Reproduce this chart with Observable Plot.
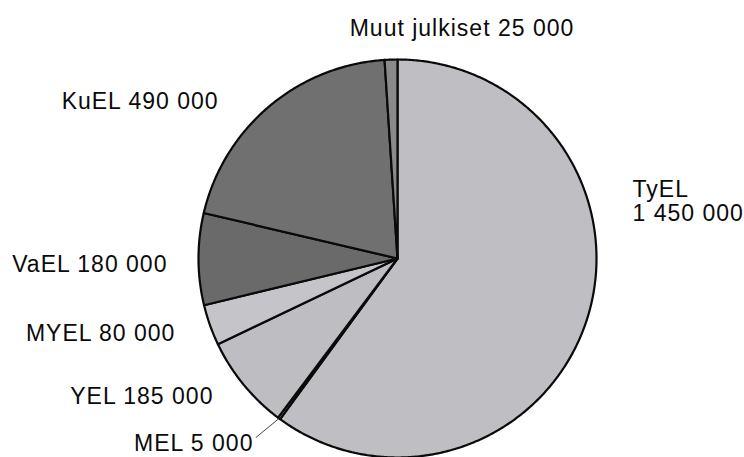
<!DOCTYPE html>
<html><head><meta charset="utf-8">
<script src="https://cdn.jsdelivr.net/npm/d3@7"></script>
<script src="https://cdn.jsdelivr.net/npm/@observablehq/plot@0.6"></script>
<style>html,body{margin:0;padding:0;background:#fff}</style>
</head><body><div id="chart"></div>
<script>
// ---- data ----
const names = ["TyEL", "MEL", "YEL", "MYEL", "VaEL", "KuEL", "Muut julkiset"];
const values = [1450000, 5000, 185000, 80000, 180000, 490000, 25000];
const labels = ["TyEL\n1 450 000", "MEL 5 000", "YEL 185 000", "MYEL 80 000", "VaEL 180 000", "KuEL 490 000", "Muut julkiset 25 000"];
const colors = ["#bebec3", "#bebec3", "#bdbdc2", "#c5c5c9", "#6a6a6a", "#707070", "#8a8a8a"];

// ---- label layout (in pie-radius units) ----
const labelX = [1.181, -0.724, -0.925, -1.116, -1.156, -0.899, 0.324];
const labelY = [0.287, -0.930, -0.693, -0.377, -0.030, 0.789, 1.156];
const labelAnchor = ["start", "end", "end", "end", "end", "end", "middle"];
const leaderEnd = {MEL: [-0.712, -0.900]};

// ---- build geometry from data ----
const arcs = d3.pie().sort(null).value(d => d)(values);
const pts = [];
arcs.forEach((a, i) => {
  const name = names[i];
  pts.push({name, x: 0, y: 0});
  const n = Math.max(2, Math.ceil((a.endAngle - a.startAngle) / (Math.PI / 360)));
  for (let k = 0; k <= n; k++) {
    const t = a.startAngle + (a.endAngle - a.startAngle) * k / n;
    pts.push({name, x: Math.sin(t), y: Math.cos(t)});
  }
  pts.push({name, x: 0, y: 0});
});
const labelRows = names.map((name, i) => ({name, text: labels[i], x: labelX[i], y: labelY[i], anchor: labelAnchor[i]}));
const leaders = arcs.map((a, i) => ({a, name: names[i]})).filter(d => leaderEnd[d.name]).map(({a, name}) => {
  const m = (a.startAngle + a.endAngle) / 2;
  return {x1: Math.sin(m), y1: Math.cos(m), x2: leaderEnd[name][0], y2: leaderEnd[name][1]};
});

const textOpts = {x: "x", y: "y", text: "text", fill: "#0a0a0a", fontSize: 23, lineHeight: 1.02};
const chart = Plot.plot({
  width: 744,
  height: 457,
  margin: 0,
  x: {domain: [-1, 1], range: [198, 596], axis: null},
  y: {domain: [-1, 1], range: [457, 59], axis: null},
  color: {domain: names, range: colors},
  style: {fontFamily: "'Liberation Sans', Arial, sans-serif", letterSpacing: "1px", background: "#fff"},
  marks: [
    Plot.line(pts, {x: "x", y: "y", z: "name", fill: "name", stroke: "#0a0a0a", strokeWidth: 2.2, strokeLinejoin: "round", curve: "linear"}),
    Plot.link(leaders, {x1: "x1", y1: "y1", x2: "x2", y2: "y2", stroke: "#333", strokeWidth: 0.9}),
    Plot.text(labelRows.filter(d => d.anchor === "start"), {...textOpts, textAnchor: "start"}),
    Plot.text(labelRows.filter(d => d.anchor === "end"), {...textOpts, textAnchor: "end"}),
    Plot.text(labelRows.filter(d => d.anchor === "middle"), {...textOpts, textAnchor: "middle"})
  ]
});
document.getElementById("chart").appendChild(chart);
</script>
</body></html>
